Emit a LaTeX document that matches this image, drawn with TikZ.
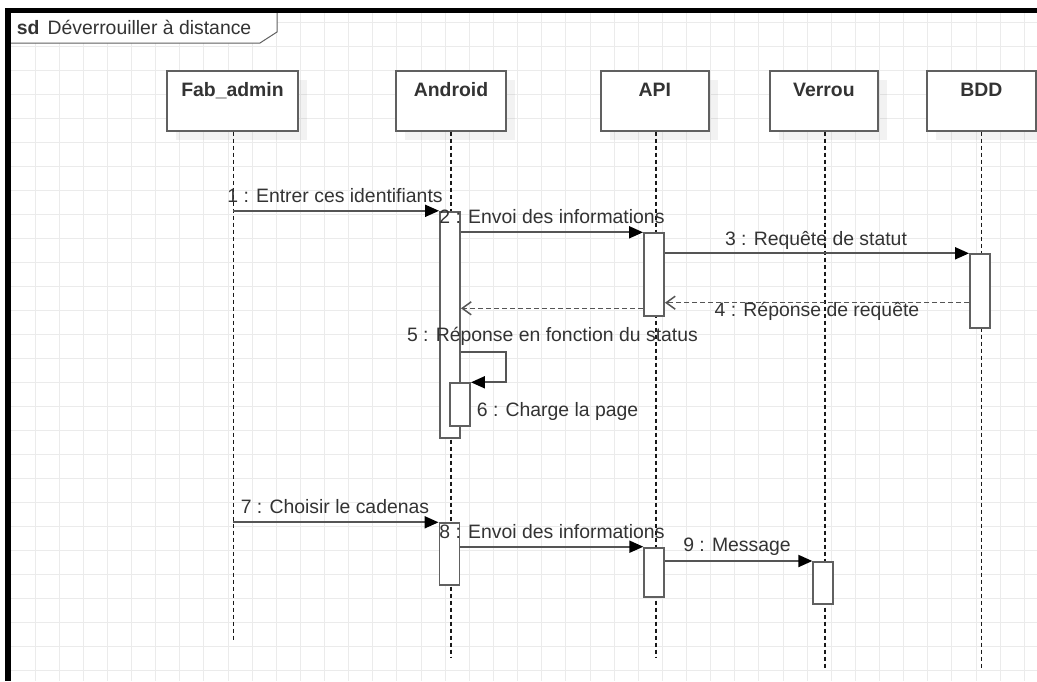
\documentclass[tikz,border=0pt]{standalone}
\usepackage{fontspec}
\setmainfont{Liberation Sans}
\usetikzlibrary{arrows.meta,calc,shadows}
\definecolor{txt}{HTML}{333333}
\definecolor{ln}{HTML}{555555}
\definecolor{bd}{HTML}{606060}
\definecolor{grd}{HTML}{EBEBEB}
\begin{document}
\begin{tikzpicture}[x=1pt,y=-1pt,
  font=\fontsize{19.4}{23}\selectfont,
  headbox/.style={draw=bd, line width=1.9pt, fill=white, minimum height=60pt, inner sep=0pt,
     drop shadow={shadow xshift=9pt, shadow yshift=-9pt, opacity=0.05, fill=black}},
  headtxt/.style={anchor=base, font=\fontsize{19.4}{23}\selectfont\bfseries, text=txt, inner sep=0pt},
  life/.style={draw=black!90, line width=1.4pt, dash pattern=on 4pt off 3pt},
  bar/.style={draw=bd, line width=1.9pt, fill=white, minimum width=20pt, inner sep=0pt, anchor=north},
  msg/.style={draw=ln, line width=1.9pt, -{Triangle[length=14pt,width=12pt,color=black]}},
  ret/.style={draw=ln, line width=1.5pt, dash pattern=on 5pt off 3pt, -{Straight Barb[length=9pt,width=13pt]}},
  lbl/.style={anchor=base, text=txt, inner sep=0pt},
]
\useasboundingbox (0,0) rectangle (1037,681);
\fill[white] (0,0) rectangle (1037,681);
% grid
\foreach \i in {0,...,42} \draw[grd, line width=1pt] ({10.9+24.13*\i},12) -- ({10.9+24.13*\i},681);
\foreach \j in {0,...,27} \draw[grd, line width=1pt] (10,{22.7+24*\j}) -- (1037,{22.7+24*\j});
% frame label
\draw[draw=bd, line width=1pt, fill=white] (8,12) -- (277,12) -- (277,32) -- (260,43) -- (8,43) -- cycle;
\node[anchor=base west, inner sep=0pt, text=txt] (title) at (16.7,34) {\textbf{sd}\hspace{8pt}Déverrouiller à distance};
% frame
\fill[black] (5,7.5) rectangle (1037,12.5);
\fill[black] (5,7.5) rectangle (10.5,681);
% lifeline coordinates
\coordinate (Lf) at (233.3,640);
\coordinate (La) at (451,657);
\coordinate (Lp) at (656,657);
\coordinate (Lv) at (825,668);
\coordinate (Ld) at (981.7,668);
% heads
\node[headbox, minimum width=131.6pt] (fab) at (232.5,100.7) {};
\node[headbox, minimum width=110pt] (and) at (451,100.7) {};
\node[headbox, minimum width=108.3pt] (api) at (654.9,100.7) {};
\node[headbox, minimum width=107.7pt] (ver) at (823.9,100.7) {};
\node[headbox, minimum width=109.3pt] (bdd) at (981.4,100.7) {};
\node[headtxt] (fabt) at (232.5,96.7) {Fab\_admin};
\node[headtxt] (andt) at (451,96.7) {Android};
\node[headtxt] (apit) at (654.9,96.7) {API};
\node[headtxt] (vert) at (823.9,96.7) {Verrou};
\node[headtxt] (bddt) at (981.4,96.7) {BDD};
% lifelines
\draw[life] (fab.south -| Lf) -- (Lf);
\draw[life] (and.south -| La) -- (La);
\draw[life] (api.south -| Lp) -- (Lp);
\draw[life] (ver.south -| Lv) -- (Lv);
\draw[life] (bdd.south -| Ld) -- (Ld);
% activation bars
\node[bar, minimum height=226.5pt] (a1) at (450,210.8) {};
\node[bar, minimum height=43pt] (a2) at (460,382.3) {};
\node[bar, minimum height=83pt] (p1) at (654,232.3) {};
\node[bar, minimum height=74pt] (d1) at (980,253.3) {};
\node[bar, minimum height=62pt] (a3) at (449.5,522.3) {};
\node[bar, minimum height=49.5pt] (p2) at (654.3,546.7) {};
\node[bar, minimum height=42.3pt] (v1) at (823.3,561) {};
% messages
\coordinate (y4) at (0,302.7);
\coordinate (yr) at (0,308.3);
\coordinate (y5) at (0,351.7);
\draw[msg] (a1.north west -| Lf) -- (a1.north west);
\draw[msg] (p1.north west -| a1.east) -- (p1.north west);
\draw[msg] (d1.north west -| p1.east) -- (d1.north west);
\draw[ret] (d1.west |- y4) -- (p1.east |- y4);
\draw[ret] (p1.west |- yr) -- (a1.east |- yr);
\draw[msg] (a1.east |- y5) -- ++(45,0) |- (a2.north east);
\draw[msg] (a3.north west -| Lf) -- (a3.north west);
\draw[msg] (p2.north west -| a3.east) -- (p2.north west);
\draw[msg] (v1.north west -| p2.east) -- (v1.north west);
% labels
\node[lbl] (l1) at (335,202.5) {1 : Entrer ces identifiants};
\node[lbl] (l2) at (552,223.5) {2 : Envoi des informations};
\node[lbl] (l3) at (816,245) {3 : Requête de statut};
\node[lbl] (l4) at (817,316.7) {4 : Réponse de requête};
\node[lbl] (l5) at (552.5,341) {5 : Réponse en fonction du status};
\node[lbl, anchor=base west] (l6) at (476.7,416) {6 : Charge la page};
\node[lbl] (l7) at (335,513.3) {7 : Choisir le cadenas};
\node[lbl] (l8) at (552,538.3) {8 : Envoi des informations};
\node[lbl] (l9) at (737,551.7) {9 : Message};
\end{tikzpicture}
\end{document}
